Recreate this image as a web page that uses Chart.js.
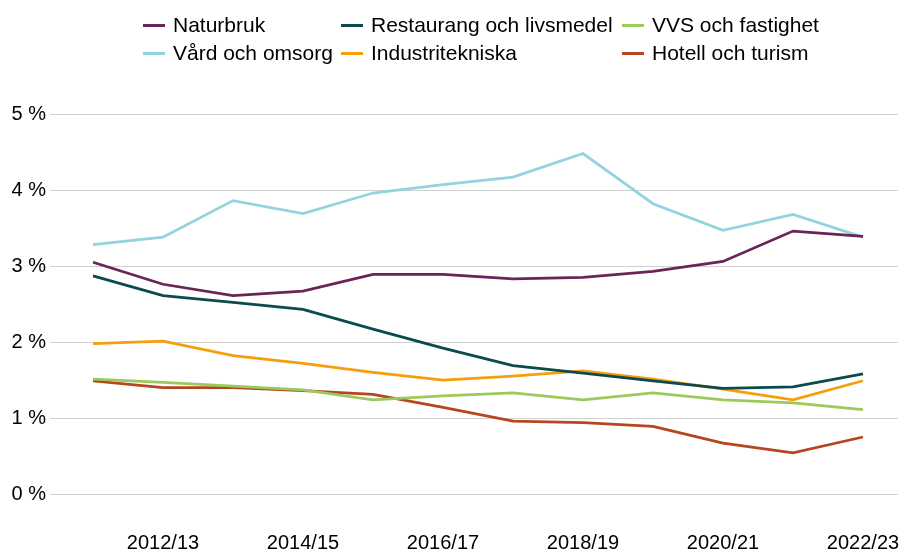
<!DOCTYPE html>
<html>
<head>
<meta charset="utf-8">
<script src="https://cdn.jsdelivr.net/npm/chart.js@4"></script>
<style>
  html, body { margin: 0; padding: 0; background: #fff; }
  #wrap { position: relative; width: 903px; height: 551px; }
  #chart { position: absolute; left: 0; top: 0; }
  .leg { position: absolute; display: flex; align-items: center; font-family: "Liberation Sans", Arial, sans-serif; font-size: 21px; color: #000; white-space: nowrap; height: 28px; }
  .leg .mk { width: 22px; height: 3px; margin-right: 8px; }
</style>
</head>
<body>
<div id="wrap">
  <canvas id="chart" width="903" height="551"></canvas>
</div>
<script>
const categories = ["2011/12","2012/13","2013/14","2014/15","2015/16","2016/17","2017/18","2018/19","2019/20","2020/21","2021/22","2022/23"];
const seriesNames = ["Naturbruk","Restaurang och livsmedel","VVS och fastighet","Vård och omsorg","Industritekniska","Hotell och turism"];
const naturbruk   = [3.05, 2.76, 2.61, 2.67, 2.89, 2.89, 2.83, 2.85, 2.93, 3.06, 3.46, 3.39];
const restaurang  = [2.87, 2.61, 2.52, 2.43, 2.17, 1.92, 1.69, 1.59, 1.49, 1.39, 1.41, 1.58];
const vvs         = [1.51, 1.47, 1.42, 1.37, 1.24, 1.29, 1.33, 1.24, 1.33, 1.24, 1.20, 1.11];
const vard        = [3.28, 3.38, 3.86, 3.69, 3.96, 4.07, 4.17, 4.48, 3.82, 3.47, 3.68, 3.38];
const industri    = [1.98, 2.01, 1.82, 1.72, 1.60, 1.50, 1.55, 1.62, 1.51, 1.38, 1.24, 1.49];
const hotell      = [1.49, 1.40, 1.40, 1.36, 1.31, 1.14, 0.96, 0.94, 0.89, 0.67, 0.54, 0.75];
const yTickValues = [0, 1, 2, 3, 4, 5];

const colors = ["#6B2457", "#0B4A4E", "#9CC95B", "#93D3DF", "#F5A00A", "#B5461F"];
const values = [naturbruk, restaurang, vvs, vard, industri, hotell];

const FONT = "'Liberation Sans', Arial, sans-serif";

const datasets = seriesNames.map((name, i) => ({
  label: name,
  data: values[i],
  borderColor: colors[i],
  backgroundColor: colors[i],
  borderWidth: 2.75,
  pointRadius: 0,
  pointHoverRadius: 0,
  tension: 0,
  fill: false
}));

new Chart(document.getElementById('chart'), {
  type: 'line',
  data: { labels: categories, datasets },
  options: {
    responsive: false,
    animation: false,
    events: [],
    layout: { padding: { top: 114, right: 5, left: 0, bottom: 0 } },
    plugins: { legend: { display: false }, tooltip: { enabled: false } },
    scales: {
      x: {
        type: 'category',
        offset: true,
        grid: { display: false },
        border: { display: false },
        afterFit: (s) => { s.height = 57; s.paddingLeft = 0; s.paddingRight = 0; },
        ticks: {
          autoSkip: false,
          maxRotation: 0,
          padding: 29,
          color: '#000',
          font: { family: FONT, size: 20 },
          callback: function(v, i) { return i % 2 === 1 ? categories[i] : ''; }
        }
      },
      y: {
        min: 0, max: 5,
        afterFit: (s) => { s.width = 58; s.paddingTop = 0; s.paddingBottom = 0; },
        afterBuildTicks: (s) => { s.ticks = yTickValues.map(v => ({ value: v })); },
        grid: { color: '#d0d0d0', lineWidth: 1, tickLength: 8, drawTicks: true },
        border: { display: false },
        ticks: {
          padding: 4,
          color: '#000',
          font: { family: FONT, size: 20 },
          callback: (v) => v + ' %'
        }
      }
    }
  }
});

// HTML legend (3 columns x 2 rows, reading order follows series order)
const legCols = [143, 341, 622];
const legRows = [11, 39];
const wrap = document.getElementById('wrap');
seriesNames.forEach((name, i) => {
  const d = document.createElement('div');
  d.className = 'leg';
  d.style.left = legCols[i % 3] + 'px';
  d.style.top = legRows[Math.floor(i / 3)] + 'px';
  const mk = document.createElement('span');
  mk.className = 'mk';
  mk.style.background = colors[i];
  const tx = document.createElement('span');
  tx.textContent = name;
  d.appendChild(mk); d.appendChild(tx);
  wrap.appendChild(d);
});
</script>
</body>
</html>
